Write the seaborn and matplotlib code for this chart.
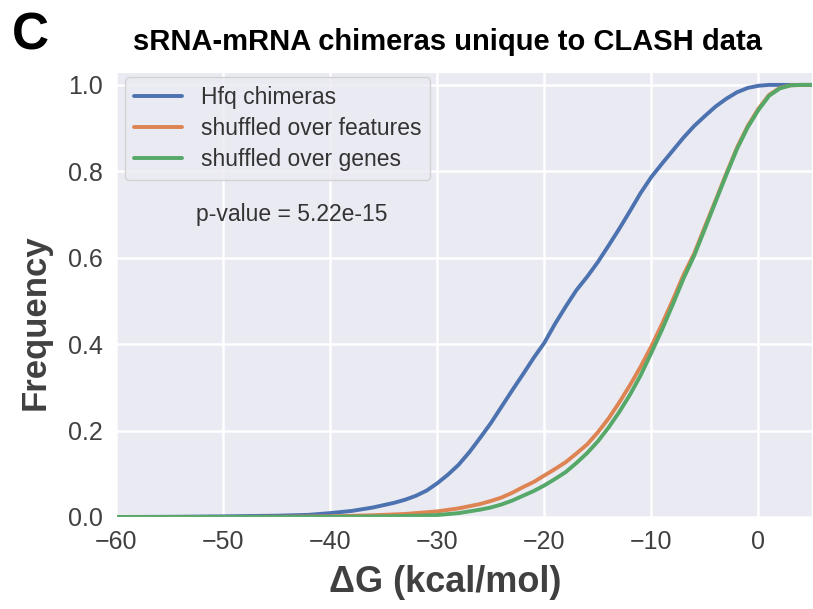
import numpy as np
import pandas as pd
import matplotlib
matplotlib.use("Agg")
import matplotlib.pyplot as plt
import seaborn as sns

# ---- data ----
hfq_x = [-60, -55, -50, -45, -42, -40, -38, -36, -34, -33, -32, -31, -30, -29, -28, -27, -26, -25, -24, -23,
         -22, -21, -20, -19, -18, -17, -16, -15, -14, -13, -12, -11, -10, -9, -8, -7, -6, -5, -4, -3,
         -2, -1, 0, 1, 2, 5]
hfq_y = [0.0, 0.0005, 0.0015, 0.003, 0.005, 0.009, 0.014, 0.022, 0.033, 0.040, 0.049, 0.061, 0.078, 0.098,
         0.121, 0.150, 0.183, 0.217, 0.255, 0.293, 0.330, 0.368, 0.403, 0.447, 0.487, 0.525, 0.556, 0.590,
         0.628, 0.667, 0.708, 0.750, 0.787, 0.818, 0.848, 0.878, 0.905, 0.928, 0.950, 0.968, 0.983, 0.993,
         0.998, 1.0, 1.0, 1.0]

feat_x = [-60, -50, -45, -40, -36, -33, -30, -28, -27, -26, -25, -24, -23, -22, -21, -20, -19, -18, -17, -16,
          -15, -14, -13, -12, -11, -10, -9, -8, -7, -6, -5, -4, -3, -2, -1, 0, 1, 2, 3, 4, 5]
feat_y = [0.0, 0.0, 0.0005, 0.0015, 0.004, 0.007, 0.013, 0.020, 0.025, 0.030, 0.037, 0.045, 0.056, 0.069,
          0.081, 0.096, 0.111, 0.127, 0.147, 0.168, 0.196, 0.228, 0.265, 0.305, 0.348, 0.395, 0.447, 0.502,
          0.560, 0.610, 0.672, 0.733, 0.795, 0.855, 0.905, 0.945, 0.977, 0.993, 0.999, 1.0, 1.0]

gene_x = [-60, -45, -40, -35, -32, -30, -28, -27, -26, -25, -24, -23, -22, -21, -20, -19, -18, -17, -16, -15,
          -14, -13, -12, -11, -10, -9, -8, -7, -6, -5, -4, -3, -2, -1, 0, 1, 2, 3, 4, 5]
gene_y = [0.0, 0.0, 0.0005, 0.0015, 0.003, 0.0045, 0.009, 0.013, 0.017, 0.022, 0.029, 0.038, 0.049, 0.060,
          0.073, 0.088, 0.104, 0.125, 0.148, 0.175, 0.207, 0.243, 0.283, 0.328, 0.380, 0.434, 0.492, 0.552,
          0.605, 0.667, 0.730, 0.792, 0.852, 0.902, 0.942, 0.975, 0.992, 0.999, 1.0, 1.0]

series_names = ["Hfq chimeras", "shuffled over features", "shuffled over genes"]
x_ticks = [-60, -50, -40, -30, -20, -10, 0]
y_ticks = [0.0, 0.2, 0.4, 0.6, 0.8, 1.0]
p_text = "p-value = 5.22e-15"

df = pd.concat([
    pd.DataFrame({"dG": hfq_x, "freq": hfq_y, "series": series_names[0]}),
    pd.DataFrame({"dG": feat_x, "freq": feat_y, "series": series_names[1]}),
    pd.DataFrame({"dG": gene_x, "freq": gene_y, "series": series_names[2]}),
], ignore_index=True)

# ---- style ----
sns.set_style("darkgrid")
plt.rcParams["font.family"] = ["Liberation Sans", "DejaVu Sans"]
plt.rcParams["axes.unicode_minus"] = True

deep = sns.color_palette("deep")
palette = {series_names[0]: deep[0], series_names[1]: deep[1], series_names[2]: deep[2]}

fig = plt.figure(figsize=(8.13, 6.09), dpi=100)
ax = fig.add_axes([116 / 813, 92 / 609, 696 / 813, 445.5 / 609])

sns.lineplot(data=df, x="dG", y="freq", hue="series", hue_order=series_names,
             palette=palette, linewidth=2.8, ax=ax, estimator=None, sort=True)
for ln in ax.get_lines():
    ln.set_solid_joinstyle("round")
    ln.set_solid_capstyle("round")

ax.set_xlim(-60, 5)
ax.set_ylim(0, 1.031)
ax.set_xticks(x_ticks)
ax.set_yticks(y_ticks)
ax.set_xticklabels([f"{t}".replace("-", "\u2212") for t in x_ticks])
ax.set_yticklabels([f"{t:.1f}" for t in y_ticks])
ax.tick_params(axis="both", labelsize=18, labelcolor="#404040", pad=6)
ax.grid(True, color="white", linewidth=1.8)

ax.set_xlabel("\u0394G (kcal/mol)", fontsize=26, fontweight="bold", color="#404040")
ax.set_ylabel("Frequency", fontsize=25, fontweight="bold", color="#404040", labelpad=12)
ax.xaxis.set_label_coords(0.473, -0.148)
ax.xaxis.label.set_verticalalignment("center")
ax.yaxis.label.set_y(0.438)

leg = ax.legend(loc="upper left", bbox_to_anchor=(9 / 696, 1 - 5.5 / 445.5), borderaxespad=0,
                fontsize=16.5, handlelength=2.1, handletextpad=0.8, labelspacing=0.35,
                frameon=True, framealpha=0.8)
for line in leg.get_lines():
    line.set_linewidth(2.8)
for t in leg.get_texts():
    t.set_color("#333333")

ax.text(-52.5, 0.70, p_text, fontsize=16.5, color="#333333", va="center", ha="left")

fig.text(447 / 813, 1 - 42 / 609, "sRNA-mRNA chimeras unique to CLASH data",
         fontsize=21, fontweight="bold", ha="center", va="center", color="black")
fig.text(12 / 813, 1 - 36 / 609, "C", fontsize=37, fontweight="bold", ha="left", va="center", color="black")

fig.savefig("out.png", dpi=100)
